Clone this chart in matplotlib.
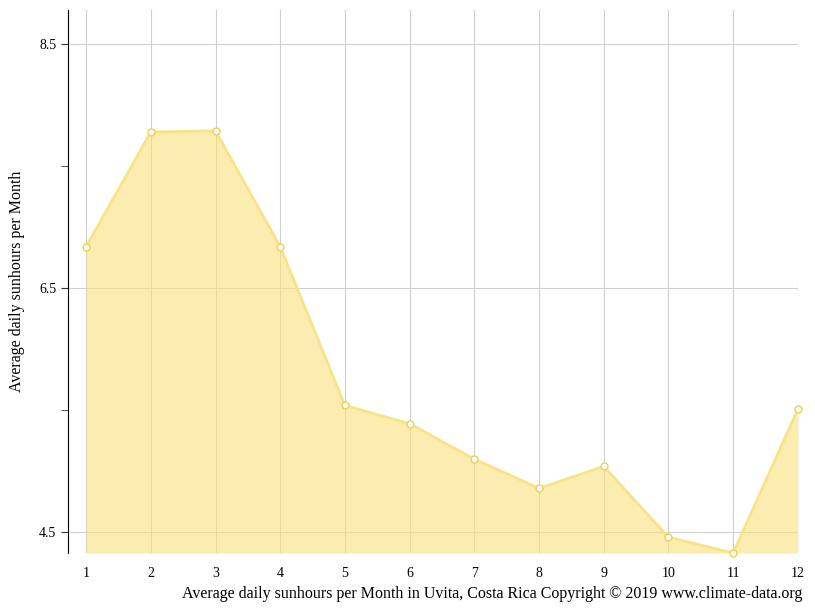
import matplotlib
matplotlib.use("Agg")
import matplotlib.pyplot as plt

months = list(range(1, 13))
sunhours = [6.84, 7.78, 7.79, 6.84, 5.54, 5.39, 5.10, 4.86, 5.04, 4.46, 4.33, 5.51]
yticks = [4.5, 6.5, 8.5]
minor_yticks = [5.5, 7.5]

plt.rcParams['font.family'] = ['Liberation Serif', 'DejaVu Serif']
fig = plt.figure(figsize=(8.15, 6.11), dpi=100)
ax = fig.add_axes([0.0834, 0.0949, 0.979 - 0.0834, 0.9836 - 0.0949])
ymin, ymax = 4.33, 8.78
ax.fill_between(months, sunhours, ymin, color='#f7e27a', alpha=0.6, zorder=2, lw=0)
ax.plot(months, sunhours, color='#f7e48a', lw=2, zorder=3)
ax.plot(months, sunhours, 'o', ms=5, mfc='white', mec='#f0d050', mew=1, zorder=4, clip_on=False)
ax.set_xlim(0.72, 12)
ax.set_ylim(ymin, ymax)
ax.set_xticks(months)
ax.set_yticks(yticks)
ax.set_yticks(minor_yticks, minor=True)
ax.set_yticklabels([str(t) for t in yticks])
ax.grid(True, color='#d0d0d0', lw=0.8, zorder=1)
for s in ['top', 'right', 'bottom']:
    ax.spines[s].set_visible(False)
ax.tick_params(axis='x', length=0, pad=10, labelsize=10)
ax.tick_params(axis='y', which='both', length=5, labelsize=10, color='#333333')
ax.set_ylabel('Average daily sunhours per Month', fontsize=11.5, labelpad=10)
fig.text(0.984, 0.015, 'Average daily sunhours per Month in Uvita, Costa Rica Copyright © 2019 www.climate-data.org',
         ha='right', va='bottom', fontsize=11.5)
fig.savefig('out.png', dpi=100)
